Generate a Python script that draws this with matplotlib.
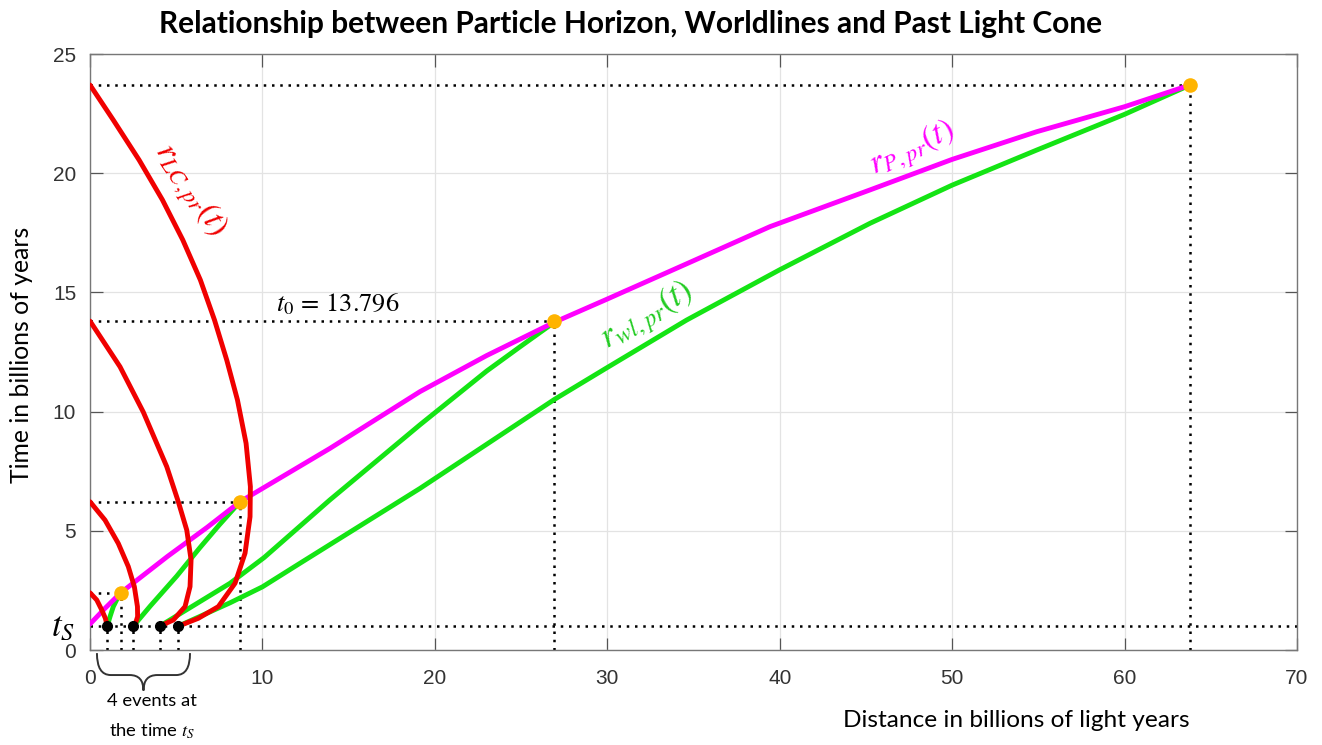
import matplotlib
matplotlib.use("Agg")
import matplotlib.pyplot as plt
from matplotlib.path import Path
from matplotlib.patches import PathPatch

plt.rcParams['mathtext.fontset'] = 'stix'

# time of the 4 events (billions of years)
t_s = 1.0
t0 = 13.796

# the 4 events at t_S (distance) and the points where their light reaches us
event_r = [1.0, 2.51, 4.04, 5.12]
obs_r = [1.78, 8.70, 26.93, 63.80]
obs_t = [2.40, 6.22, t0, 23.70]

# past light cones r_LC,pr(t)
cone1_r = [0, 0.39, 0.68, 0.89, 1.0]
cone1_t = [2.40, 2.10, 1.68, 1.33, 1.0]
cone2_r = [0, 0.87, 1.64, 2.22, 2.57, 2.75, 2.76, 2.65, 2.51]
cone2_t = [6.22, 5.45, 4.47, 3.50, 2.66, 1.82, 1.40, 1.15, 1.0]
cone3_r = [0, 1.74, 3.09, 4.45, 5.12, 5.61, 5.86, 5.80, 5.51, 4.83, 4.04]
cone3_t = [13.796, 11.88, 9.98, 7.69, 6.22, 5.03, 3.78, 2.66, 1.82, 1.26, 1.0]
cone4_r = [0, 1.35, 2.85, 4.20, 5.38, 6.40, 7.22, 7.93, 8.55, 9.05, 9.30,
           9.28, 8.99, 8.41, 7.44, 6.28, 5.12]
cone4_t = [23.70, 22.23, 20.55, 18.88, 17.20, 15.52, 13.84, 12.16, 10.49, 8.67,
           6.85, 5.59, 4.06, 2.80, 1.82, 1.33, 1.0]

# worldlines r_wl,pr(t)
wl1_r = [1.0, 1.16, 1.35, 1.59, 1.78]
wl1_t = [1.0, 1.40, 1.82, 2.17, 2.40]
wl2_r = [2.51, 3.50, 5.03, 6.38, 7.50, 8.70]
wl2_t = [1.0, 1.85, 3.10, 4.30, 5.25, 6.22]
wl3_r = [4.04, 8.12, 10.1, 13.9, 19.14, 23.0, 24.94, 26.93]
wl3_t = [1.0, 2.80, 3.88, 6.29, 9.45, 11.70, 12.72, 13.75]
wl4_r = [5.12, 8.12, 10.0, 12.18, 19.14, 26.93, 29.93, 34.6, 40.0, 45.24,
         50.0, 54.9, 60.0, 63.8]
wl4_t = [1.0, 1.98, 2.65, 3.64, 6.78, 10.51, 11.82, 13.84, 15.95, 17.90,
         19.5, 20.97, 22.47, 23.70]

# particle horizon r_P,pr(t)
ph_r = [0, 0.87, 1.78, 4.5, 6.8, 8.70, 13.92, 19.14, 23.0, 26.93, 29.93,
        34.6, 39.44, 45.24, 50.0, 54.9, 60.0, 63.8]
ph_t = [1.09, 1.75, 2.40, 3.93, 5.15, 6.22, 8.46, 10.84, 12.35, 13.75, 14.70,
        16.2, 17.76, 19.3, 20.58, 21.74, 22.79, 23.70]

xticks = [0, 10, 20, 30, 40, 50, 60, 70]
yticks = [0, 5, 10, 15, 20, 25]

red = '#f00000'
green = '#14e414'
magenta = '#ff00ff'
orange = '#ffb400'

fig = plt.figure(figsize=(13.22, 7.45), dpi=100)
ax = fig.add_axes([0.0681, 0.1275, 0.913, 0.80])
ax.set_xlim(0, 70)
ax.set_ylim(0, 25)

# dotted guide lines
dot = dict(color='black', lw=1.8, dashes=(1, 2.3), zorder=2)
ax.plot([0, 70], [t_s, t_s], **dot)
for r, t in zip(obs_r, obs_t):
    ax.plot([0, r], [t, t], **dot)
    ax.plot([r, r], [0, t], **dot)
for r in event_r:
    ax.plot([r, r], [0, t_s], **dot)

lw = 3.5
style = dict(lw=lw, solid_capstyle='round', solid_joinstyle='round')
for r, t in [(wl1_r, wl1_t), (wl2_r, wl2_t), (wl3_r, wl3_t), (wl4_r, wl4_t)]:
    ax.plot(r, t, color=green, zorder=3, **style)
ax.plot(ph_r, ph_t, color=magenta, zorder=4, **style)
for r, t in [(cone1_r, cone1_t), (cone2_r, cone2_t), (cone3_r, cone3_t), (cone4_r, cone4_t)]:
    ax.plot(r, t, color=red, zorder=5, **style)

ax.plot(obs_r, obs_t, 'o', color=orange, ms=10.5, mec='none', zorder=6)
ax.plot(event_r, [t_s] * len(event_r), 'o', color='black', ms=7, zorder=6)

# curve labels
ax.text(5.8, 19.3, r'$r_{LC,pr}(t)$', color=red, fontsize=24, rotation=-56,
        ha='center', va='center', rotation_mode='anchor')
ax.text(32.3, 14.0, r'$r_{wl,pr}(t)$', color='#22cc22', fontsize=25, rotation=31,
        ha='center', va='center', rotation_mode='anchor')
ax.text(47.7, 21.0, r'$r_{P,pr}(t)$', color=magenta, fontsize=24, rotation=25,
        ha='center', va='center', rotation_mode='anchor')
ax.text(10.8, 14.5, r'$t_0\,=\,13.796$', color='black', fontsize=19,
        ha='left', va='center')

# axes styling
ax.set_xticks(xticks)
ax.set_yticks(yticks)
ax.grid(True, color='#e3e3e3', lw=0.9)
ax.set_axisbelow(True)
ax.tick_params(direction='in', length=9, width=0.9, color='#555555',
               top=True, right=True, labelsize=15, labelcolor='#333333')
ax.tick_params(axis='x', pad=14)
ax.tick_params(axis='y', pad=10)
for lab in ax.get_xticklabels() + ax.get_yticklabels():
    lab.set_family('Liberation Sans')
for s in ax.spines.values():
    s.set_color('#777777')
    s.set_linewidth(1.0)

# t_S on the time axis
ax.text(-0.9, t_s, r'$t_S$', fontsize=25, ha='right', va='center', clip_on=False)

# brace under the 4 events
bx0, bx1 = 0.4, 5.8
bxm = (bx0 + bx1) / 2
ytop, ymid, ytip = -0.13, -1.05, -1.70
q = 0.8
verts = [(bx0, ytop), (bx0, ymid), (bx0 + q, ymid), (bxm - q, ymid),
         (bxm, ymid), (bxm, ytip), (bxm, ymid), (bxm + q, ymid),
         (bx1 - q, ymid), (bx1, ymid), (bx1, ytop)]
codes = [Path.MOVETO, Path.CURVE3, Path.CURVE3, Path.LINETO,
         Path.CURVE3, Path.CURVE3, Path.CURVE3, Path.CURVE3,
         Path.LINETO, Path.CURVE3, Path.CURVE3]
ax.add_patch(PathPatch(Path(verts, codes), fc='none', ec='#333333', lw=1.4,
                       clip_on=False))
ax.text(3.6, -2.15, '4 events at', fontsize=13.3, family='Lato', ha='center',
        va='center', clip_on=False)
ax.text(3.6, -3.4, r'the time $t_S$', fontsize=13.3, family='Lato', ha='center',
        va='center', clip_on=False)

fig.text(0.477, 0.968, 'Relationship between Particle Horizon, Worldlines and Past Light Cone',
         fontsize=21.5, fontweight='bold', family='Lato', ha='center', va='center')
fig.text(0.0166, 0.5235, 'Time in billions of years', fontsize=17.8, family='Lato',
         rotation=90, ha='center', va='center')
fig.text(0.7685, 0.0335, 'Distance in billions of light years', fontsize=17.6,
         family='Lato', ha='center', va='center')

fig.savefig('out.png', dpi=100)
